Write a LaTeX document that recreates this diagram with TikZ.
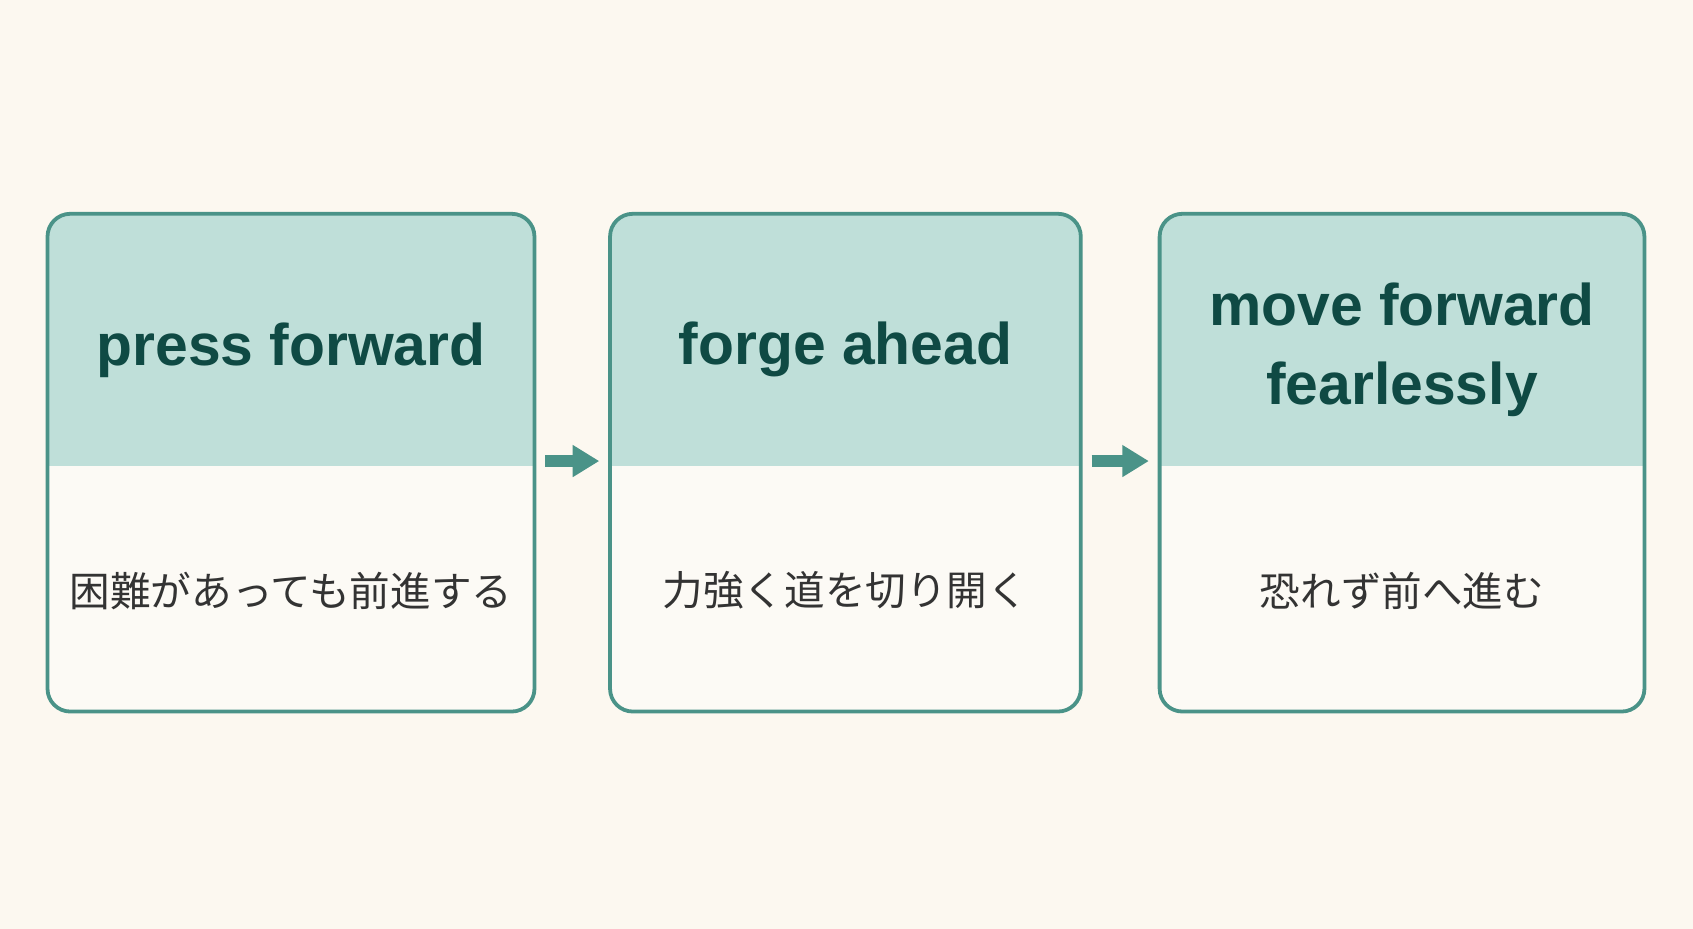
\documentclass[tikz,border=0pt]{standalone}
\usepackage{fontspec}
\setmainfont{Liberation Sans}
\newfontfamily\cjk{Noto Sans CJK JP}
\usetikzlibrary{positioning, calc, arrows.meta}

\definecolor{bgcream}{HTML}{FCF8F0}
\definecolor{headteal}{HTML}{BFDFD9}
\definecolor{edgeteal}{HTML}{4A9388}
\definecolor{titleink}{HTML}{0F4A44}
\definecolor{bodywhite}{HTML}{FCFAF5}

\tikzset{
  card/.style={draw=edgeteal, line width=1pt, rounded corners=6pt},
  title/.style={text=titleink, font=\fontsize{15.5}{21}\selectfont\bfseries, align=center},
  gloss/.style={text=black!80, font=\cjk\fontsize{10.7}{13}\selectfont},
  nextarrow/.style={draw=edgeteal, line width=3pt, -{Triangle[length=7pt,width=8pt]}}
}

\begin{document}
\begin{tikzpicture}[y=-1cm]
  \fill[bgcream] (0,0) rectangle (15.68,8.60);
  \useasboundingbox (0,0) rectangle (15.68,8.60);

  % three cards
  \foreach \x/\w/\n in {0.44/4.51/a, 5.65/4.36/b, 10.74/4.49/c}{
    \begin{scope}
      \clip[rounded corners=6pt] (\x,1.98) rectangle ++(\w,4.61);
      \fill[bodywhite] (\x,1.98) rectangle ++(\w,4.61);
      \fill[headteal] (\x,1.98) rectangle ++(\w,2.34);
    \end{scope}
    \draw[card] (\x,1.98) rectangle ++(\w,4.61);
    \coordinate (\n-head) at ($(\x,3.24)+(\w/2,0)$);
    \coordinate (\n-body) at ($(\x,5.47)+(\w/2,0)$);
    \coordinate (\n-in) at (\x-0.1,4.27);
    \coordinate (\n-out) at ($(\x,4.27)+(\w,0)+(0.1,0)$);
  }

  % headings
  \node[title] (t1) at (a-head) {press forward};
  \node[title] (t2) at (b-head) {forge ahead};
  \node[title] (t3) at (c-head) {move forward\\fearlessly};

  % japanese glosses
  \node[gloss] (g1) at (a-body) {困難があっても前進する};
  \node[gloss] (g2) at (b-body) {力強く道を切り開く};
  \node[gloss] (g3) at (c-body) {恐れず前へ進む};

  % arrows
  \draw[nextarrow] (a-out) -- (b-in);
  \draw[nextarrow] (b-out) -- (c-in);
\end{tikzpicture}
\end{document}
